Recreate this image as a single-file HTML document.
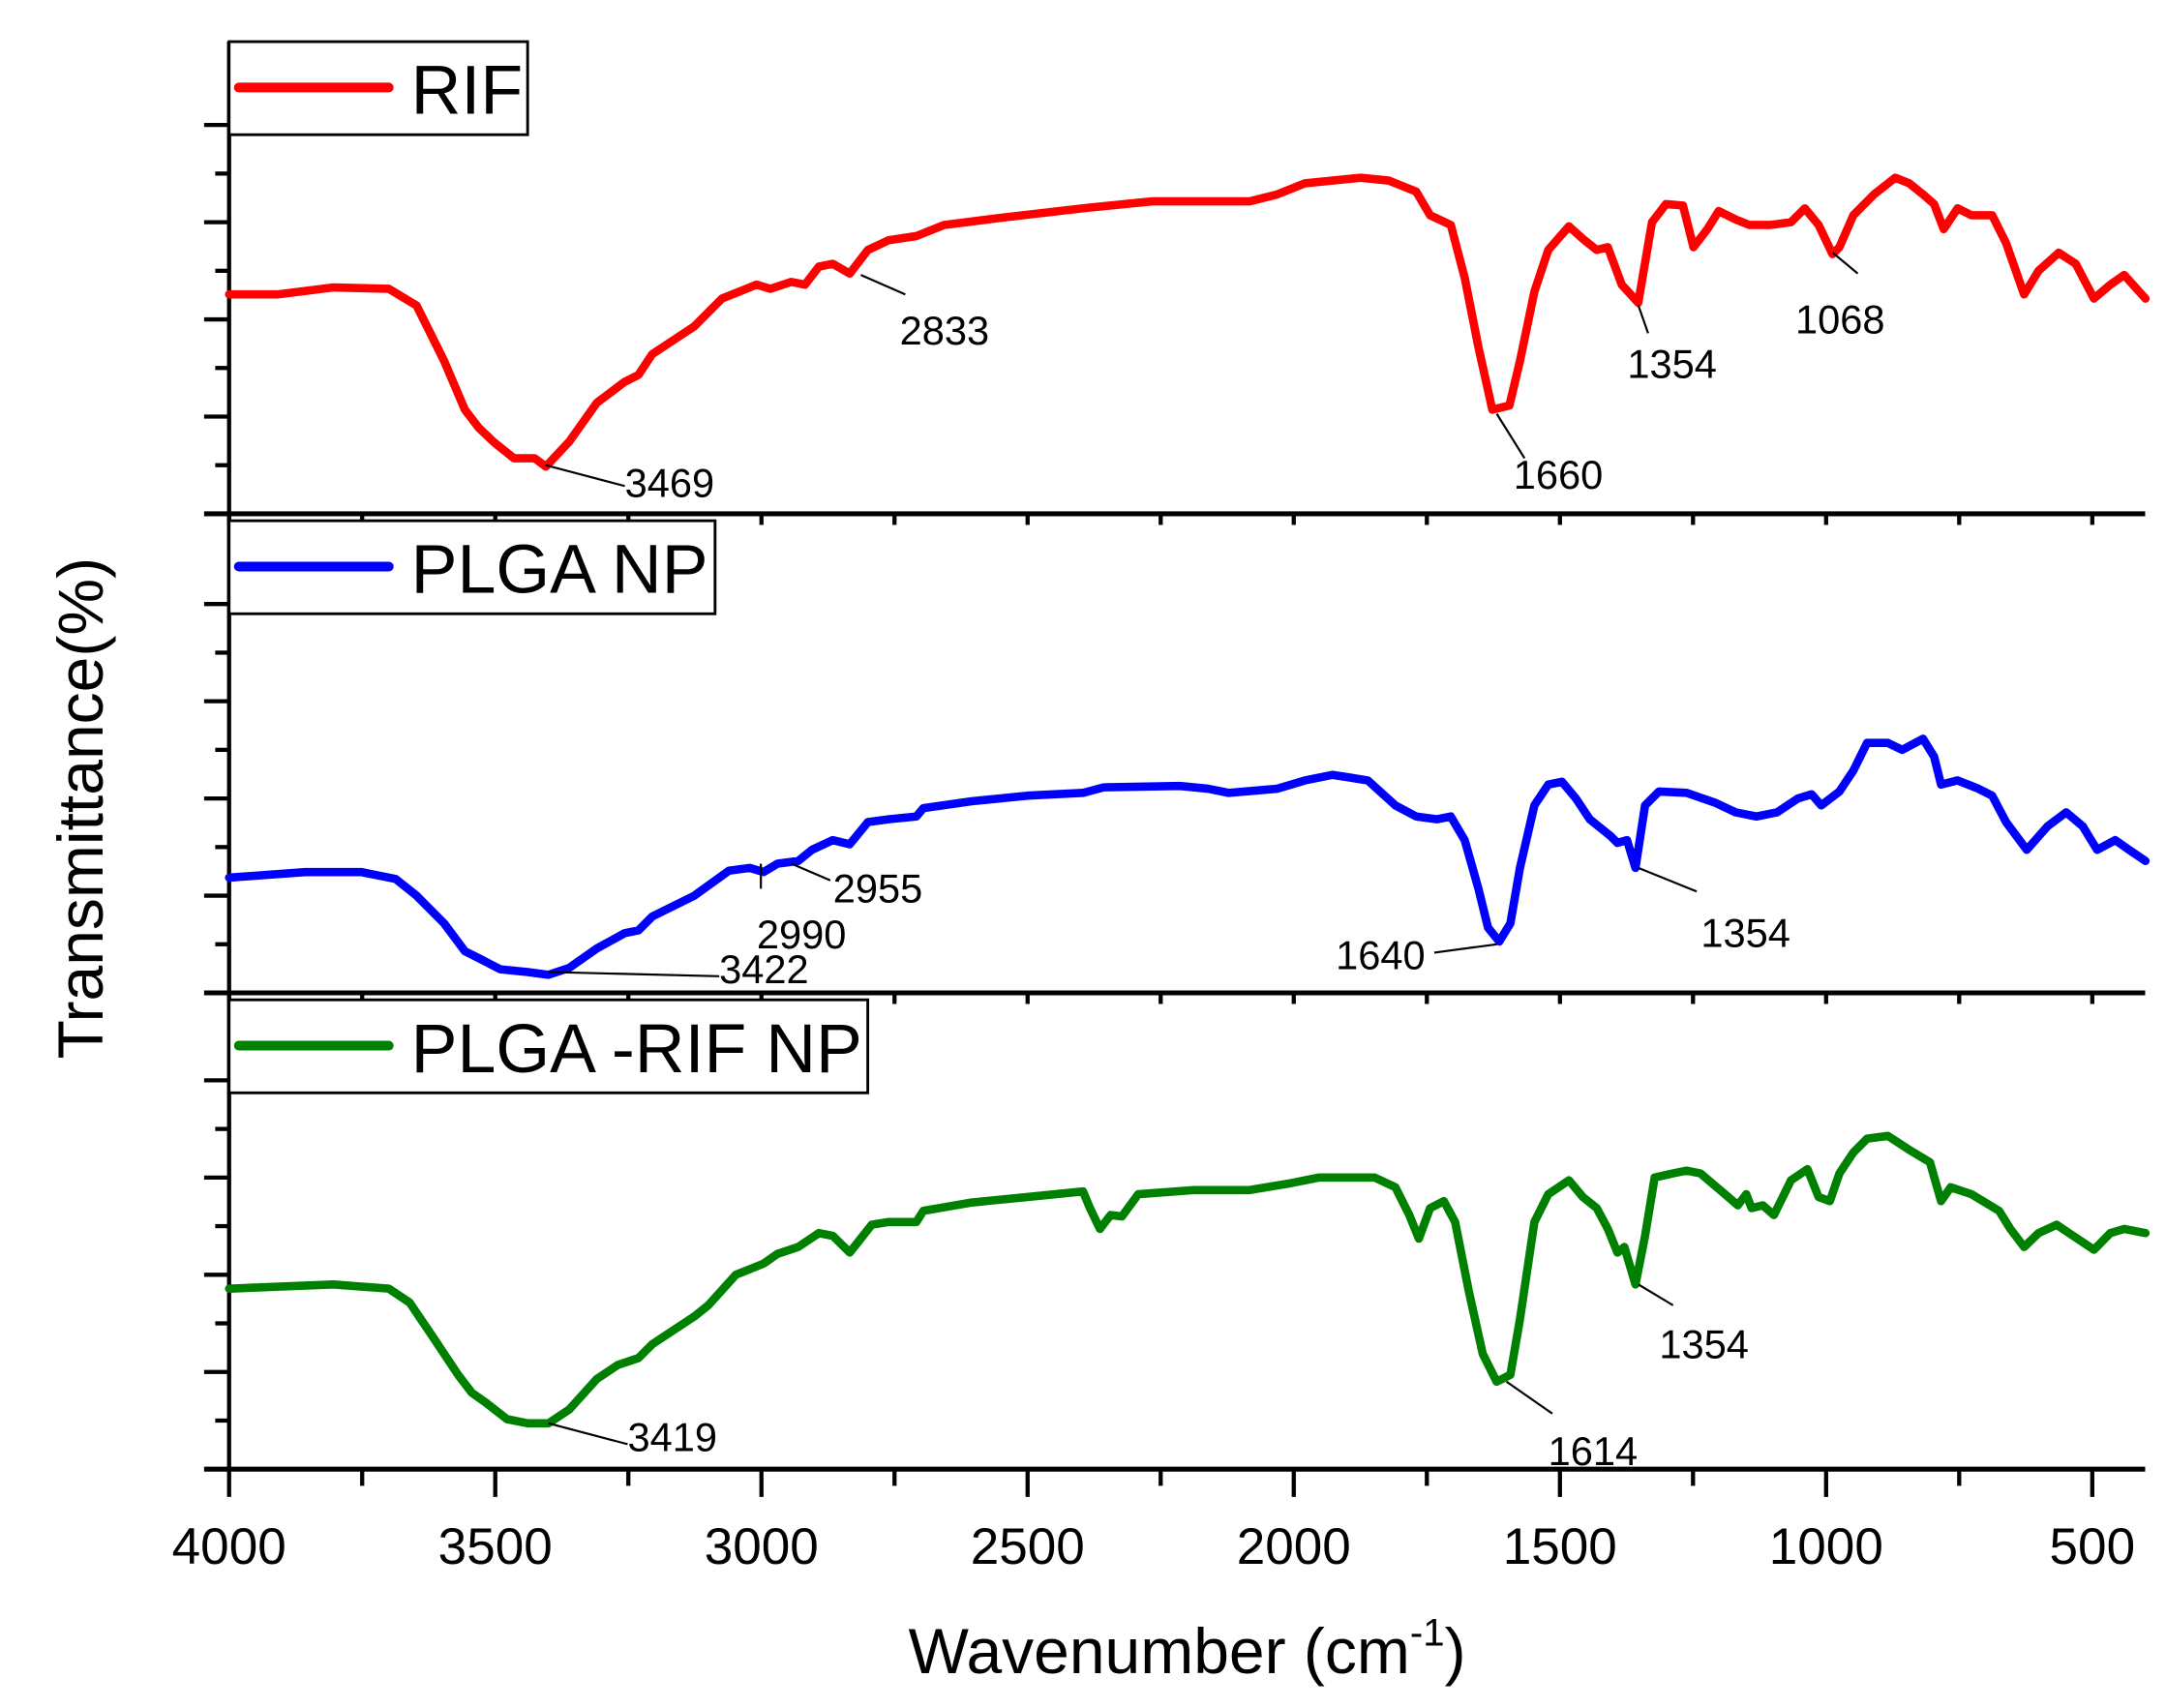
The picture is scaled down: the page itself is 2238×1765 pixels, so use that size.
<!DOCTYPE html>
<html><head><meta charset="utf-8"><style>
html,body{margin:0;padding:0;background:#fff;}
svg{display:block;font-family:"Liberation Sans",Arial,sans-serif;}
</style></head><body>
<svg id="chart" width="2238" height="1765" viewBox="0 0 1560 1230" preserveAspectRatio="none" xmlns="http://www.w3.org/2000/svg">
<g id="axes"></g>
<g id="series"></g>
<g id="annots"></g>
<g id="legends"></g>
<text x="855" y="1205" font-size="46" text-anchor="middle">Wavenumber (cm<tspan font-size="28" dy="-20">-1</tspan><tspan dy="20">)</tspan></text>
<text transform="translate(74,582) rotate(-90)" font-size="46" text-anchor="middle">Transmittance(%)</text>
</svg>
<script>
const xTicks = [4000,3500,3000,2500,2000,1500,1000,500];
const panelNames = ["RIF","PLGA NP","PLGA -RIF NP"];
const panelColors = ["#ff0000","#0000ff","#008000"];
const rifWn = [4000,3909,3804,3700,3648,3596,3557,3531,3504,3465,3426,3405,3361,3309,3257,3231,3205,3126,3074,3009,2983,2944,2918,2892,2866,2834,2800,2761,2709,2657,2553,2396,2266,2083,2031,1979,1874,1822,1770,1744,1705,1679,1653,1627,1595,1575,1548,1522,1483,1457,1431,1410,1384,1353,1327,1301,1269,1249,1223,1202,1170,1144,1105,1066,1040,1014,988,975,949,910,870,844,818,797,779,753,727,688,662,628,601,563,531,497,466,440,400];
const rifT = [158,158,163,162,150,110,75,62,52,40,40,34,52,80,95,100,115,135,155,165,162,167,165,178,180,173,190,197,200,208,213,220,225,225,230,238,242,240,232,215,208,170,120,75,78,110,160,190,207,198,190,192,165,152,210,223,222,192,205,218,212,208,208,210,220,208,187,192,215,230,242,238,230,223,205,220,215,215,195,158,175,188,180,155,165,172,155];
const plgaWn = [4000,3857,3752,3687,3648,3596,3557,3531,3491,3439,3400,3361,3309,3257,3231,3205,3126,3061,3022,2996,2970,2931,2905,2866,2834,2800,2761,2709,2696,2605,2500,2396,2357,2214,2161,2122,2031,1979,1927,1861,1809,1770,1731,1705,1679,1653,1635,1614,1593,1575,1548,1522,1496,1470,1444,1405,1392,1374,1358,1340,1314,1262,1209,1170,1131,1092,1053,1027,1009,975,949,923,884,857,818,797,784,753,714,688,662,623,584,549,518,491,457,431,400];
const plgaT = [83,87,87,82,70,50,30,25,17,15,13,18,32,43,45,55,70,88,90,87,93,95,103,110,107,123,125,127,133,138,142,144,148,149,147,144,147,153,157,153,135,127,125,127,110,75,47,37,50,90,135,150,152,140,125,113,108,110,90,135,145,144,137,130,127,130,140,143,135,145,160,180,180,175,183,170,150,153,147,142,123,103,120,130,120,103,110,103,95];
const comboWn = [4000,3804,3700,3661,3622,3570,3544,3518,3478,3439,3400,3361,3309,3270,3231,3205,3126,3100,3048,2996,2970,2931,2892,2866,2834,2793,2761,2709,2696,2605,2500,2396,2383,2364,2344,2323,2292,2187,2083,2005,1953,1848,1809,1783,1765,1744,1718,1697,1671,1645,1619,1593,1575,1548,1522,1483,1457,1431,1410,1392,1379,1358,1340,1322,1288,1262,1236,1184,1166,1150,1140,1119,1098,1066,1035,1014,993,975,949,923,884,844,805,784,766,727,675,654,628,601,567,536,497,466,440,400];
const comboT = [130,133,130,120,98,68,55,48,36,33,33,43,65,75,80,90,110,118,140,148,155,160,170,168,156,176,178,178,186,192,196,200,188,173,183,182,198,201,201,206,210,210,203,183,166,188,193,178,128,83,63,68,108,178,198,208,196,188,173,156,160,133,168,210,213,215,213,196,190,198,188,190,183,208,216,196,193,213,228,238,240,230,221,193,203,198,186,173,160,170,176,168,158,170,173,170];
const annLabels = ["3469","2833","1660","1354","1068","2955","2990","3422","1640","1354","3419","1614","1354"];

const NS="http://www.w3.org/2000/svg";
const X0=165, X1=1545, PX=0.3834;
const bottoms=[370,715,1058];
function xs(w){return X0+(4000-w)*PX;}
function ys(p,t){return bottoms[p]-t;}
function mk(tag,attrs,parent){const e=document.createElementNS(NS,tag);for(const k in attrs)e.setAttribute(k,attrs[k]);parent.appendChild(e);return e;}
const axes=document.getElementById('axes'), series=document.getElementById('series'), annots=document.getElementById('annots'), legends=document.getElementById('legends');

let el=mk('line',{x1:X0,y1:30,x2:X0,y2:bottoms[2],stroke:'#000','stroke-width':3},axes);


for(let p=0;p<3;p++){
  const b=bottoms[p];
  el=mk('line',{x1:147,y1:b,x2:X1,y2:b,stroke:'#000','stroke-width':3.5},axes);
  
  
  for(let i=1;i<=8;i++){
    const y=b-i*35; if(p===0&&y<88) break;
    const major=i%2===0;
    el=mk('line',{x1:major?147:155,y1:y,x2:X0,y2:y,stroke:'#000','stroke-width':3},axes);
    
    
  }
  for(let w=4000;w>=400;w-=250){
    const major=w%500===0;
    const len=p===2?(major?20:12):8;
    el=mk('line',{x1:xs(w),y1:b,x2:xs(w),y2:b+len,stroke:'#000','stroke-width':3},axes);
    
    
  }
}
xTicks.forEach(t=>{
  const tx=mk('text',{x:xs(t),y:1126,'font-size':37,'text-anchor':'middle'},axes);
  tx.textContent=t;
  
  
});
const data=[[rifWn,rifT],[plgaWn,plgaT],[comboWn,comboT]];
data.forEach((d,p)=>{
  const n=Math.min(d[0].length,d[1].length);
  let s='';
  for(let i=0;i<n;i++) s+=(i?'L':'M')+xs(d[0][i]).toFixed(1)+','+ys(p,d[1][i]).toFixed(1);
  const path=mk('path',{d:s,fill:'none',stroke:panelColors[p],'stroke-width':6,'stroke-linejoin':'round','stroke-linecap':'round'},series);
  
  
});
const legW=[215,350,460];
panelNames.forEach((nm,p)=>{
  const top=p===0?30:bottoms[p-1]+5;
  const r=mk('rect',{x:X0,y:top,width:legW[p],height:67,fill:'#fff',stroke:'#000','stroke-width':2},legends);
  
  
  const l=mk('line',{x1:172,y1:top+33,x2:280,y2:top+33,stroke:panelColors[p],'stroke-width':7,'stroke-linecap':'round'},legends);
  
  
  const t=mk('text',{x:296,y:top+52,'font-size':50},legends);
  t.textContent=nm;
  
  
});
const annGeom=[[393,335,450,350,450,358],[620,198,652,212,648,248],[1078,298,1098,330,1090,352],[1180,220,1187,240,1172,272],[1320,182,1338,197,1293,240],
[570,622,598,634,600,650],[548,622,548,640,545,683],[395,700,518,703,518,708],[1033,686,1078,680,962,698],[1180,625,1222,642,1225,682],
[395,1025,452,1040,452,1045],[1085,995,1118,1018,1115,1055],[1180,925,1205,940,1195,978]];
annGeom.forEach((g,i)=>{
  const ln=mk('line',{x1:g[0],y1:g[1],x2:g[2],y2:g[3],stroke:'#000','stroke-width':1.5},annots);
  
  
  const t=mk('text',{x:g[4],y:g[5],'font-size':29},annots);
  t.textContent=annLabels[i];
  
  
});
</script>
</body></html>
